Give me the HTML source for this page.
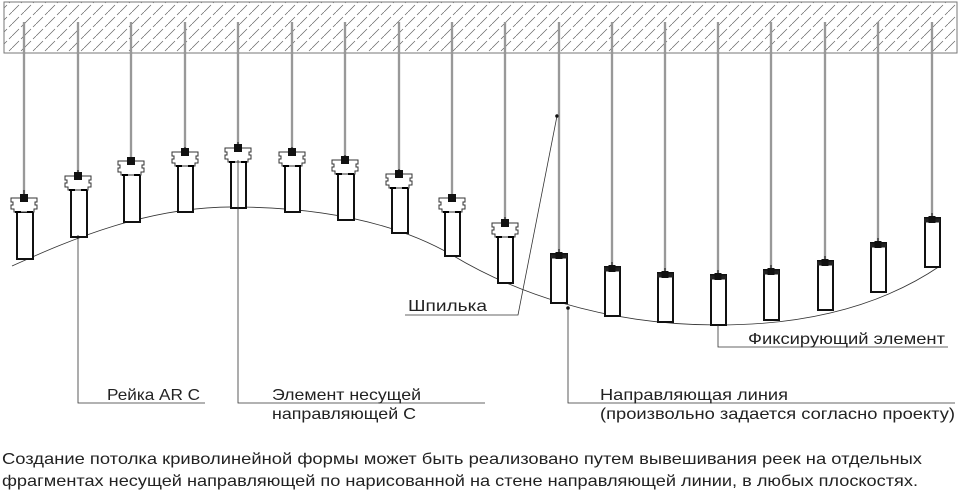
<!DOCTYPE html>
<html><head><meta charset="utf-8"><style>
html,body{margin:0;padding:0;background:#fff;}
svg{display:block;}
text{font-family:"Liberation Sans",sans-serif;fill:#222;}
</style></head><body>
<svg width="960" height="490" viewBox="0 0 960 490" xmlns="http://www.w3.org/2000/svg">
<defs>
<pattern id="h" width="12" height="12" patternUnits="userSpaceOnUse">
<line x1="0" y1="12" x2="7" y2="5" stroke="#666" stroke-width="0.7"/>
<line x1="9" y1="3" x2="12" y2="0" stroke="#666" stroke-width="0.7"/>
</pattern>
<symbol id="br" overflow="visible">
<path d="M-13,0 H13 V4 H11 V7 H13 V11 H10 V14 H-10 V11 H-13 V7 H-11 V4 H-13 Z" fill="#fff" stroke="#333" stroke-width="1"/>
<path d="M-9,14 H-3 M3,14 H9" stroke="#000" stroke-width="2"/>
<rect x="-4" y="-4" width="8" height="8" fill="#111"/>
</symbol>
<symbol id="fx" overflow="visible">
<rect x="-8" y="-1.5" width="16" height="4" fill="#222"/>
<rect x="-3.5" y="-4" width="7" height="7" fill="#111"/>
</symbol>
</defs>
<rect x="4" y="2" width="953" height="51" fill="url(#h)" stroke="#777" stroke-width="1"/>
<g stroke="#555" stroke-width="2.2" fill="none">
<line x1="24" y1="22" x2="24" y2="195"/><line x1="78" y1="22" x2="78" y2="175"/>
<line x1="131" y1="22" x2="131" y2="162"/><line x1="185" y1="22" x2="185" y2="152"/>
<line x1="238" y1="22" x2="238" y2="147"/><line x1="292" y1="22" x2="292" y2="152"/>
<line x1="345" y1="22" x2="345" y2="160"/><line x1="399" y1="22" x2="399" y2="174"/>
<line x1="452" y1="22" x2="452" y2="199"/><line x1="505" y1="22" x2="505" y2="222"/>
<line x1="559" y1="22" x2="559" y2="254"/><line x1="612" y1="22" x2="612" y2="267"/>
<line x1="665" y1="22" x2="665" y2="273"/><line x1="718" y1="22" x2="718" y2="275"/>
<line x1="771" y1="22" x2="771" y2="270"/><line x1="825" y1="22" x2="825" y2="261"/>
<line x1="878" y1="22" x2="878" y2="243"/><line x1="932" y1="22" x2="932" y2="218"/>
</g>
<g stroke="#fff" stroke-width="0.8">
<line x1="24" y1="22" x2="24" y2="190"/><line x1="78" y1="22" x2="78" y2="170"/>
<line x1="131" y1="22" x2="131" y2="157"/><line x1="185" y1="22" x2="185" y2="147"/>
<line x1="238" y1="22" x2="238" y2="142"/><line x1="292" y1="22" x2="292" y2="147"/>
<line x1="345" y1="22" x2="345" y2="155"/><line x1="399" y1="22" x2="399" y2="169"/>
<line x1="452" y1="22" x2="452" y2="194"/><line x1="505" y1="22" x2="505" y2="217"/>
<line x1="559" y1="22" x2="559" y2="249"/><line x1="612" y1="22" x2="612" y2="262"/>
<line x1="665" y1="22" x2="665" y2="268"/><line x1="718" y1="22" x2="718" y2="270"/>
<line x1="771" y1="22" x2="771" y2="265"/><line x1="825" y1="22" x2="825" y2="256"/>
<line x1="878" y1="22" x2="878" y2="238"/><line x1="932" y1="22" x2="932" y2="213"/>
</g>
<path d="M12,266 C70,240 150,205 240,207 C330,208 400,225 452,255 C510,290 600,325 718,325 C820,325 890,300 940,266" fill="none" stroke="#333" stroke-width="0.8"/>
<g fill="#fff" stroke="#111" stroke-width="2">
<rect x="17" y="212" width="16" height="47"/><rect x="71" y="189" width="16" height="48"/>
<rect x="124" y="174" width="16" height="48"/><rect x="178" y="165" width="15" height="47"/>
<rect x="231" y="161" width="15" height="47"/><rect x="285" y="165" width="15" height="47"/>
<rect x="338" y="173" width="16" height="47"/><rect x="392" y="187" width="16" height="46"/>
<rect x="445" y="211" width="15" height="45"/><rect x="498" y="236" width="15" height="47"/>
<rect x="551" y="254" width="16" height="49"/><rect x="605" y="267" width="15" height="49"/>
<rect x="658" y="273" width="15" height="49"/><rect x="711" y="275" width="15" height="50"/>
<rect x="764" y="270" width="15" height="50"/><rect x="818" y="261" width="15" height="49"/>
<rect x="871" y="243" width="15" height="49"/><rect x="925" y="218" width="15" height="49"/>
</g>
<use href="#br" x="24" y="198"/><use href="#br" x="78" y="176"/><use href="#br" x="131" y="161"/>
<use href="#br" x="185" y="152"/><use href="#br" x="238" y="148"/><use href="#br" x="292" y="152"/>
<use href="#br" x="345" y="160"/><use href="#br" x="399" y="174"/><use href="#br" x="452" y="198"/>
<use href="#br" x="505" y="223"/>
<use href="#fx" x="559" y="256"/><use href="#fx" x="612" y="269"/><use href="#fx" x="665" y="275"/>
<use href="#fx" x="718" y="277"/><use href="#fx" x="771" y="272"/><use href="#fx" x="825" y="263"/>
<use href="#fx" x="878" y="245"/><use href="#fx" x="932" y="220"/>
<g stroke="#333" stroke-width="0.8" fill="none">
<polyline points="78,237 78,403 205,403"/>
<polyline points="238,160 238,403 485,403"/>
<polyline points="568,308 568,403 955,403"/>
<polyline points="405,315 518,315 557,116"/>
<polyline points="718,325 718,347 948,347"/>
</g>
<circle cx="557" cy="116" r="1.8" fill="#111"/>
<circle cx="568" cy="308" r="1.8" fill="#111"/>
<circle cx="78" cy="237" r="1.5" fill="#111"/>
<g font-size="16">
<text x="107" y="400" textLength="93" lengthAdjust="spacingAndGlyphs">Рейка AR С</text>
<text x="272" y="400" textLength="149" lengthAdjust="spacingAndGlyphs">Элемент несущей</text>
<text x="272" y="419" textLength="144" lengthAdjust="spacingAndGlyphs">направляющей С</text>
<text x="600" y="400" textLength="188" lengthAdjust="spacingAndGlyphs">Направляющая линия</text>
<text x="600" y="419" textLength="355" lengthAdjust="spacingAndGlyphs">(произвольно задается согласно проекту)</text>
<text x="408" y="311" textLength="79" lengthAdjust="spacingAndGlyphs">Шпилька</text>
<text x="748" y="344" textLength="197" lengthAdjust="spacingAndGlyphs">Фиксирующий элемент</text>
<text x="2" y="464" textLength="920" lengthAdjust="spacingAndGlyphs">Создание потолка криволинейной формы может быть реализовано путем вывешивания реек на отдельных</text>
<text x="2" y="486" textLength="916" lengthAdjust="spacingAndGlyphs">фрагментах несущей направляющей по нарисованной на стене направляющей линии, в любых плоскостях.</text>
</g>
</svg>
</body></html>
